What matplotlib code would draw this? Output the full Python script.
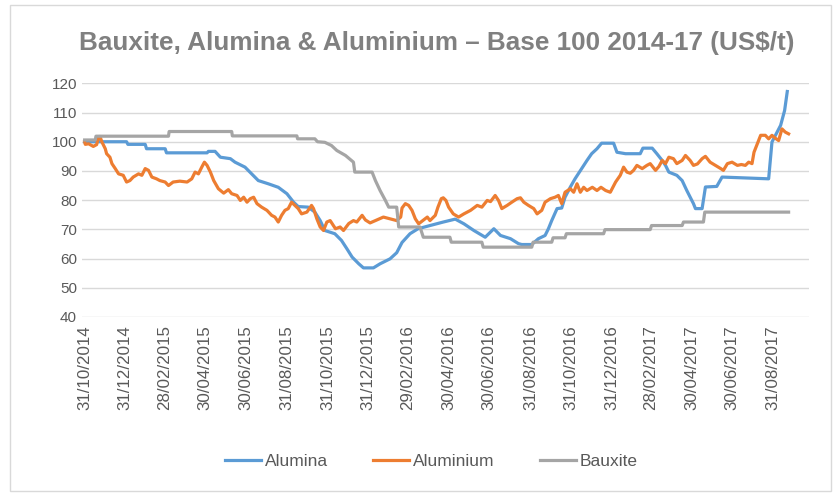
import numpy as np
import pandas as pd
import matplotlib
matplotlib.use("Agg")
from matplotlib import pyplot as plt
from matplotlib.patches import Rectangle

# days counted from 31/10/2014 (base 100)
base = pd.Timestamp("2014-10-31")

alumina_day = [0, 63, 65, 91, 93, 121, 123, 184, 186, 196, 204, 219, 226, 241, 251,
               261, 276, 291, 304, 314, 321, 336, 346, 354, 361, 376, 386, 394, 402,
               412, 419, 434, 444, 459, 469, 477, 489, 501, 519, 539, 557, 570, 585,
               602, 615, 625, 640, 652, 657, 672, 682, 692, 697, 702, 710, 717, 722,
               730, 737, 747, 755, 762, 770, 777, 795, 800, 813, 835, 839, 853, 860,
               868, 873, 878, 890, 898, 905, 915, 918, 928, 933, 950, 958, 1028,
               1033, 1046, 1052, 1056]
alumina_val = [100, 100, 99.1, 99.1, 97.6, 97.6, 96.2, 96.2, 96.7, 96.7, 94.7, 94.2,
               93.0, 91.3, 89.0, 86.7, 85.6, 84.4, 82.2, 79.3, 77.8, 77.6, 75.9, 73.0,
               69.6, 68.5, 66.2, 63.4, 60.5, 58.2, 56.8, 56.8, 58.2, 59.9, 62.0, 65.5,
               68.5, 70.2, 71.3, 72.5, 73.5, 71.9, 69.6, 67.3, 70.2, 67.9, 66.8, 65.1,
               64.8, 64.8, 66.8, 67.9, 70.2, 73.0, 77.1, 77.3, 81.0, 84.5, 87.3, 90.8,
               93.6, 95.9, 97.6, 99.5, 99.5, 96.4, 95.9, 95.9, 97.8, 97.8, 95.9, 93.6,
               91.9, 89.6, 88.5, 86.7, 83.3, 78.8, 77.1, 77.1, 84.5, 84.7, 87.9, 87.3,
               99.9, 105.6, 110.7, 117.2]

aluminium_day = [0, 1, 6, 13, 18, 21, 23, 26, 31, 33, 38, 41, 46, 51, 58, 63, 68, 73,
                 81, 86, 91, 96, 101, 108, 113, 121, 126, 133, 143, 154, 161, 166,
                 171, 176, 180, 184, 189, 194, 201, 209, 216, 221, 229, 234, 239, 244,
                 249, 254, 259, 266, 274, 281, 286, 291, 296, 301, 306, 311, 316, 321,
                 326, 334, 341, 344, 349, 354, 359, 364, 369, 377, 384, 389, 397, 404,
                 409, 417, 422, 429, 437, 449, 459, 469, 475, 477, 482, 487, 492, 497,
                 502, 510, 515, 519, 527, 531, 536, 539, 543, 547, 554, 562, 570, 580,
                 590, 597, 605, 610, 617, 622, 627, 635, 642, 650, 655, 660, 667, 675,
                 680, 687, 692, 700, 707, 712, 717, 722, 730, 735, 740, 745, 750, 755,
                 763, 770, 776, 783, 790, 798, 805, 810, 815, 820, 825, 830, 838, 845,
                 850, 858, 863, 868, 873, 878, 885, 890, 898, 903, 910, 915, 921, 928,
                 933, 940, 948, 956, 960, 966, 973, 981, 987, 993, 998, 1003, 1006,
                 1011, 1016, 1023, 1028, 1033, 1038, 1043, 1048, 1053, 1058]
aluminium_val = [100.0, 99.1, 99.3, 98.4, 99.0, 101.6, 101.8, 99.9, 97.6, 95.9, 94.7,
                 92.5, 90.8, 89.0, 88.5, 86.2, 86.7, 87.9, 89.0, 88.5, 90.8, 90.2,
                 87.9, 87.3, 86.7, 86.2, 85.0, 86.2, 86.5, 86.2, 87.3, 89.6, 89.0,
                 91.3, 93.0, 91.9, 89.6, 86.7, 83.9, 82.4, 83.6, 82.2, 81.6, 79.9,
                 81.0, 79.3, 80.5, 81.0, 78.8, 77.6, 76.5, 74.8, 74.2, 72.5, 74.8,
                 76.5, 77.1, 79.3, 78.2, 77.1, 75.3, 75.9, 78.2, 77.1, 73.6, 70.8,
                 69.6, 72.5, 73.0, 70.2, 70.8, 69.6, 72.0, 73.0, 72.5, 74.8, 73.2,
                 72.2, 73.0, 74.2, 73.6, 73.0, 74.2, 77.3, 78.8, 78.2, 76.5, 73.6,
                 71.9, 73.3, 74.2, 73.0, 74.8, 77.6, 80.5, 80.8, 79.9, 77.6, 75.3,
                 74.2, 75.3, 76.5, 78.2, 77.6, 79.9, 79.5, 81.6, 79.9, 77.1, 78.2,
                 79.3, 80.5, 80.8, 79.3, 78.2, 77.1, 75.3, 76.5, 79.3, 80.5, 81.0,
                 81.6, 78.8, 82.7, 83.9, 82.7, 85.6, 82.7, 84.4, 83.3, 84.4, 83.3,
                 84.4, 83.3, 82.7, 86.2, 88.5, 91.3, 89.6, 89.2, 90.2, 91.9, 90.8,
                 91.9, 92.5, 90.2, 91.5, 93.6, 92.5, 94.7, 94.2, 92.5, 93.6, 95.3,
                 93.6, 91.9, 92.4, 94.2, 95.0, 93.0, 91.9, 90.8, 90.2, 92.5, 93.0,
                 91.9, 92.2, 91.9, 93.0, 92.5, 96.4, 99.3, 102.2, 102.2, 101.0, 102.2,
                 101.2, 100.4, 104.4, 103.3, 102.7]

bauxite_day = [0, 16, 17, 126, 127, 221, 222, 319, 320, 346, 350, 361, 371, 379, 392,
               404, 406, 432, 437, 444, 452, 457, 469, 472, 504, 509, 549, 551, 597,
               599, 672, 674, 702, 704, 722, 724, 780, 782, 850, 852, 898, 900, 930,
               932, 1058]
bauxite_val = [100.6, 100.6, 101.9, 101.9, 103.5, 103.5, 102.0, 102.0, 101.0, 101.0,
               100.0, 99.8, 98.7, 97.0, 95.3, 93.0, 89.6, 89.6, 86.7, 83.3, 79.9, 77.6,
               77.6, 70.8, 70.8, 67.3, 67.3, 65.6, 65.6, 63.9, 63.9, 65.6, 65.6, 67.1,
               67.1, 68.5, 68.5, 69.9, 69.9, 71.3, 71.3, 72.5, 72.5, 75.9, 75.9]

tick_dates = ["2014-10-31", "2014-12-31", "2015-02-28", "2015-04-30", "2015-06-30",
              "2015-08-31", "2015-10-31", "2015-12-31", "2016-02-29", "2016-04-30",
              "2016-06-30", "2016-08-31", "2016-10-31", "2016-12-31", "2017-02-28",
              "2017-04-30", "2017-06-30", "2017-08-31"]


def to_dates(days):
    return base + pd.to_timedelta(days, unit="D")


plt.rcParams["font.family"] = ["Liberation Sans", "DejaVu Sans"]

fig = plt.figure(figsize=(8.34, 4.96), dpi=100)
ax = fig.add_axes([0.0983, 0.361, 0.872, 0.471])

ax.plot(to_dates(alumina_day), alumina_val, color="#5B9BD5", lw=2.3, label="Alumina")
ax.plot(to_dates(aluminium_day), aluminium_val, color="#ED7D31", lw=2.3, label="Aluminium")
ax.plot(to_dates(bauxite_day), bauxite_val, color="#A5A5A5", lw=2.3, label="Bauxite")

ax.set_ylim(40, 120)
ax.set_yticks(np.arange(40, 121, 10))
ax.set_xlim(base - pd.Timedelta(days=4), base + pd.Timedelta(days=1089))
ticks = pd.to_datetime(tick_dates)
ax.set_xticks(ticks)
ax.set_xticklabels([t.strftime("%d/%m/%Y") for t in ticks], rotation=90, fontsize=12.2)

ax.grid(axis="y", color="#D9D9D9", lw=1)
ax.set_axisbelow(True)
for s in ["top", "right", "left", "bottom"]:
    ax.spines[s].set_visible(False)
ax.tick_params(axis="both", length=0, colors="#595959")
ax.tick_params(axis="y", labelsize=11)
ax.tick_params(axis="x", pad=6)

fig.text(0.524, 0.913, "Bauxite, Alumina & Aluminium \u2013 Base 100 2014-17 (US$/t)",
         ha="center", va="center", fontsize=18.8, fontweight="bold", color="#808080")

leg = fig.legend(loc="center", bbox_to_anchor=(0.517, 0.069), ncol=3, frameon=False,
                 fontsize=12.5, handlelength=2.1, columnspacing=2.6, handletextpad=0.2)
for t in leg.get_texts():
    t.set_color("#595959")

fig.patches.append(Rectangle((0.012, 0.01), 0.985, 0.98, transform=fig.transFigure,
                             fill=False, edgecolor="#D9D9D9", lw=1))

fig.savefig("out.png", dpi=100)
